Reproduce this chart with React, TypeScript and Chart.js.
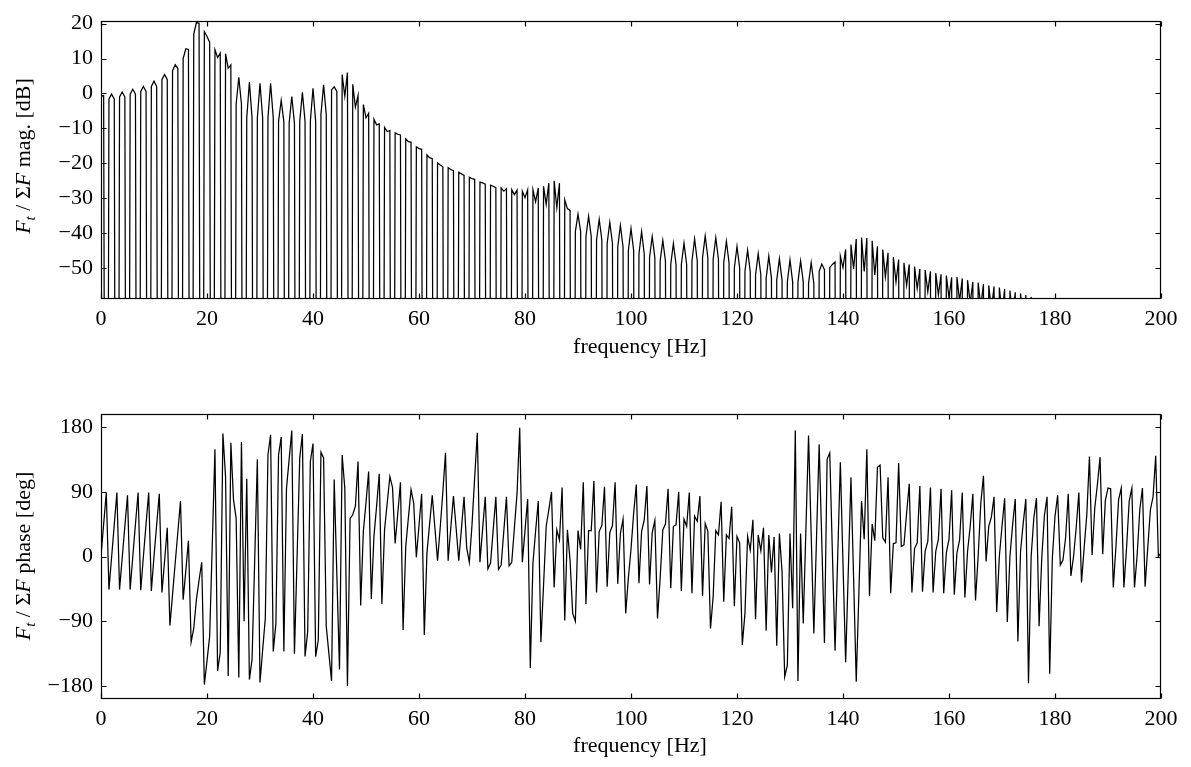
import React, { useEffect, useRef } from "react";
import { Chart, registerables } from "chart.js";

Chart.register(...registerables);

// ---------------- data ----------------
const FREQ_STEP_HZ = 0.5; // spectral bin spacing
const NOTCH = -300; // zero-magnitude bins (far below the axis)

const FREQ_TICKS = [0, 20, 40, 60, 80, 100, 120, 140, 160, 180, 200];
const MAG_TICKS = [-50, -40, -30, -20, -10, 0, 10, 20];
const PHASE_TICKS = [-180, -90, 0, 90, 180];
const MAG_RANGE = [-58.9, 20.7];
const PHASE_RANGE = [-198, 198];

// magnitude [dB], one row per 2 Hz period: [f-0.5, f, f+0.5, f+1]
const MAG_DB = [
  -0.8, -0.6, NOTCH,
  -1.6, -0.2, -1.6, NOTCH,
  -1.0, 0.4, -1.0, NOTCH,
  -0.2, 1.2, -0.2, NOTCH,
  0.6, 2.0, 0.6, NOTCH,
  2.0, 3.5, 2.0, NOTCH,
  4.0, 5.4, 4.0, NOTCH,
  6.5, 8.2, 7.2, NOTCH,
  10.0, 12.8, 12.6, NOTCH,
  17.0, 20.3, 20.1, NOTCH,
  17.7, 16.3, 14.7, NOTCH,
  12.5, 10.3, 11.6, NOTCH,
  11.4, 7.2, 8.2, NOTCH,
  -3.0, 4.6, -3.0, NOTCH,
  -7.0, 3.3, -7.0, NOTCH,
  -7.0, 2.9, -7.0, NOTCH,
  -7.0, 2.9, -7.0, NOTCH,
  -8.0, -2.0, -8.0, NOTCH,
  -8.5, -0.9, -8.5, NOTCH,
  -8.0, 0.3, -8.0, NOTCH,
  -8.0, 1.5, -8.0, NOTCH,
  -6.0, 2.5, -6.0, NOTCH,
  1.0, 1.9, 0.6, NOTCH,
  5.4, -0.8, 6.0, NOTCH,
  2.6, -3.9, -0.6, NOTCH,
  -3.2, -7.0, -5.7, NOTCH,
  -7.4, -9.0, -8.7, NOTCH,
  -9.7, -10.9, -10.6, NOTCH,
  -11.3, -11.7, -11.9, NOTCH,
  -13.0, -13.8, -14.0, NOTCH,
  -15.3, -15.8, -16.0, NOTCH,
  -17.6, -18.4, -18.7, NOTCH,
  -19.9, -20.5, -21.0, NOTCH,
  -21.3, -21.8, -22.1, NOTCH,
  -22.6, -23.0, -23.5, NOTCH,
  -24.0, -24.4, -24.6, NOTCH,
  -25.4, -25.6, -26.0, NOTCH,
  -26.3, -26.6, -27.0, NOTCH,
  -27.1, -28.0, -27.3, NOTCH,
  -27.6, -29.0, -27.7, NOTCH,
  -28.0, -29.9, -27.6, NOTCH,
  -27.6, -31.0, -27.1, NOTCH,
  -26.6, -31.8, -25.7, NOTCH,
  -25.0, -32.7, -25.7, NOTCH,
  -30.5, -33.0, -33.5, NOTCH,
  -39.6, -34.6, -39.6, NOTCH,
  -41.0, -35.2, -41.0, NOTCH,
  -42.0, -36.1, -42.0, NOTCH,
  -43.0, -36.9, -43.0, NOTCH,
  -44.0, -37.8, -44.0, NOTCH,
  -45.0, -38.7, -45.0, NOTCH,
  -46.0, -39.6, -46.0, NOTCH,
  -47.0, -41.0, -47.0, NOTCH,
  -48.0, -42.1, -48.0, NOTCH,
  -49.0, -43.0, -49.0, NOTCH,
  -49.0, -42.9, -49.0, NOTCH,
  -48.0, -41.7, -48.0, NOTCH,
  -47.0, -40.8, -47.0, NOTCH,
  -47.5, -41.3, -47.5, NOTCH,
  -48.5, -42.4, -48.5, NOTCH,
  -50.0, -43.8, -50.0, NOTCH,
  -51.0, -44.9, -51.0, NOTCH,
  -52.0, -45.9, -52.0, NOTCH,
  -53.0, -46.6, -53.0, NOTCH,
  -53.5, -47.4, -53.5, NOTCH,
  -54.0, -47.7, -54.0, NOTCH,
  -54.0, -48.0, -54.0, NOTCH,
  -54.5, -48.5, -54.5, NOTCH,
  -51.0, -48.9, -50.5, NOTCH,
  -49.9, -49.0, -48.3, NOTCH,
  -46.6, -49.9, -44.7, NOTCH,
  -43.3, -50.3, -41.7, NOTCH,
  -41.3, -51.0, -41.4, NOTCH,
  -42.2, -52.0, -43.8, NOTCH,
  -44.7, -52.6, -45.7, NOTCH,
  -46.9, -54.0, -47.6, NOTCH,
  -48.5, -55.0, -49.0, NOTCH,
  -49.6, -55.9, -50.3, NOTCH,
  -50.6, -56.8, -51.0, NOTCH,
  -51.5, -57.7, -51.8, NOTCH,
  -52.2, -58.5, -52.7, NOTCH,
  -52.6, -59.5, -53.0, NOTCH,
  -53.5, -60.0, -54.0, NOTCH,
  -54.2, -61.0, -54.6, NOTCH,
  -55.0, -62.0, -55.3, NOTCH,
  -55.6, -63.0, -56.0, NOTCH,
  -56.5, -64.0, -57.0, NOTCH,
  -57.3, -65.0, -57.8, NOTCH,
  -58.3, -66.0, -58.7, NOTCH,
  -59.5, -67.0, -60.0, NOTCH,
  -61.0, -68.0, -61.5, NOTCH,
  -62.5, -69.0, -63.0, NOTCH,
  -64.0, -70.0, -64.5, NOTCH,
  -65.5, -71.0, -66.0, NOTCH,
  -67.0, -72.0, -67.5, NOTCH,
  -68.5, -73.0, -69.0, NOTCH,
  -70.0, -74.0, -70.5, NOTCH,
  -71.5, -75.0, -72.0, NOTCH,
  -73.0, -76.0, -73.5, NOTCH,
  -74.5, -77.0, -75.0, NOTCH,
  -76.0, -78.0,
];

// phase [deg], 4 bins (2 Hz) per row
const PHASE_DEG = [
  0, 45, 89, -46,
  -1, 44, 89, -46,
  -2, 42, 85, -46,
  0, 45, 89, -47,
  0, 45, 89, -48,
  0, 44, 87, -50,
  -6, 40, -96, -53,
  -9, 34, 77, -60,
  -20, 22, -119, -100,
  -60, -33, -8, -178,
  -145, -111, 18, 149,
  -159, -133, 171, 111,
  -166, 158, 79, 53,
  -168, 159, -90, 108,
  -171, -143, -5, 135,
  -175, -130, -86, 141,
  169, -132, -93, 141,
  166, -132, 95, 135,
  175, -135, 0, 137,
  170, -139, -104, 132,
  157, -139, -116, 145,
  137, -97, -135, -173,
  107, -25, -157, 141,
  95, -180, 53, 58,
  70, 132, -68, 35,
  75, 118, -59, 28,
  70, 115, -66, 37,
  74, 111, 96, 18,
  60, 103, -102, 14,
  54, 93, 74, -1,
  43, 87, -109, 5,
  45, 85, 40, -6,
  40, 90, 144, -6,
  40, 84, 40, -6,
  38, 83, 12, -8,
  44, 109, 172, -8,
  38, 83, -17, -9,
  37, 83, -18, -12,
  35, 83, -13, -8,
  40, 88, 179, -8,
  36, 80, -155, -9,
  35, 77, -119, -40,
  42, 65, 90, -43,
  37, 23, 96, -89,
  37, -5, -79, -90,
  36, 10, 103, -66,
  36, 36, 105, -50,
  35, 43, 97, -42,
  33, 43, 103, -38,
  32, 52, -79, -30,
  10, 60, 100, -37,
  35, 51, 98, -39,
  33, 50, -86, -30,
  37, 45, 94, -44,
  42, 44, 90, -48,
  52, 42, 89, -51,
  56, 49, 84, -55,
  46, 35, -100, -56,
  36, 30, 76, -63,
  30, 25, 69, -69,
  28, 19, -123, -79,
  28, 9, 51, -87,
  30, 8, 40, -103,
  30, -22, 27, -124,
  32, -21, -167, -151,
  32, -72, 175, -173,
  32, -93, 37, 168,
  30, -107, 25, 156,
  20, -120, 135, 144,
  5, -131, 0, 131,
  -10, -147, -20, 110,
  -30, -174, -50, 77,
  24, 149, -55, 45,
  22, 124, 127, 26,
  20, 110, -51, 18,
  19, 130, 14, 16,
  60, 101, -50, 11,
  19, 98, -49, 7,
  21, 96, -50, 7,
  24, 94, -51, 5,
  24, 92, -53, 5,
  23, 89, -57, 7,
  42, 87, -61, 0,
  74, 112, -7, 42,
  55, 83, -77, 0,
  42, 81, -91, 0,
  44, 80, -118, 7,
  46, 80, -176, 0,
  53, 81, -97, -2,
  57, 83, -163, -2,
  56, 85, -12, -5,
  26, 87, -27, 0,
  40, 89, -36, 12,
  58, 139, 2, 67,
  100, 138, 3, 78,
  95, 94, -43, 14,
  79, 95, -43, 12,
  77, 95, -43, 2,
  65, 95, -42, 12,
  65, 83, 140, 0,
  5,
];

// ---------------- helpers ----------------
const FONT = "'Liberation Serif', 'Times New Roman', serif";
const FONT_SIZE = 22;
const fmt = (v: number | string) => String(v).replace("-", "\u2212");

const framePlugin = {
  id: "frameTicks",
  afterDraw(chart: any) {
    const { ctx, chartArea: a, scales } = chart;
    const L = 5;
    ctx.save();
    ctx.strokeStyle = "#000";
    ctx.lineWidth = 1.2;
    const l = Math.round(a.left) + 0.5;
    const r = Math.round(a.right) - 0.5;
    const t = Math.round(a.top) + 0.5;
    const b = Math.round(a.bottom) - 0.5;
    ctx.strokeRect(l, t, r - l, b - t);
    ctx.beginPath();
    for (const tk of scales.x.ticks) {
      const px = Math.round(scales.x.getPixelForValue(tk.value)) + 0.5;
      ctx.moveTo(px, b);
      ctx.lineTo(px, b - L);
      ctx.moveTo(px, t);
      ctx.lineTo(px, t + L);
    }
    for (const tk of scales.y.ticks) {
      const py = Math.round(scales.y.getPixelForValue(tk.value)) + 0.5;
      ctx.moveTo(l, py);
      ctx.lineTo(l + L, py);
      ctx.moveTo(r, py);
      ctx.lineTo(r - L, py);
    }
    ctx.stroke();
    ctx.restore();
  },
};

function makeConfig(values: number[], yRange: number[], yTicks: number[], padTop: number, xAxisH: number) {
  const points = values.map((v, i) => ({ x: i * FREQ_STEP_HZ, y: v }));
  return {
    type: "line",
    data: {
      datasets: [
        {
          data: points,
          borderColor: "#000",
          borderWidth: 1.25,
          pointRadius: 0,
          tension: 0,
          fill: false,
        },
      ],
    },
    options: {
      responsive: false,
      animation: false,
      events: [],
      layout: { padding: { top: padTop, right: 30, left: 0, bottom: 0 } },
      plugins: { legend: { display: false }, tooltip: { enabled: false } },
      scales: {
        x: {
          type: "linear",
          min: 0,
          max: 200,
          afterBuildTicks: (s: any) => {
            s.ticks = FREQ_TICKS.map((v) => ({ value: v }));
          },
          afterFit: (s: any) => {
            s.height = xAxisH;
          },
          grid: { display: false, drawTicks: false },
          border: { display: false },
          ticks: {
            color: "#000",
            font: { family: FONT, size: FONT_SIZE },
            padding: 7,
            maxRotation: 0,
            autoSkip: false,
            callback: (v: any) => fmt(v),
          },
        },
        y: {
          type: "linear",
          min: yRange[0],
          max: yRange[1],
          afterBuildTicks: (s: any) => {
            s.ticks = yTicks.map((v) => ({ value: v }));
          },
          afterFit: (s: any) => {
            s.width = 101;
          },
          grid: { display: false, drawTicks: false },
          border: { display: false },
          ticks: {
            color: "#000",
            font: { family: FONT, size: FONT_SIZE },
            padding: 8,
            autoSkip: false,
            callback: (v: any) => fmt(v),
          },
        },
      },
    },
    plugins: [framePlugin],
  } as any;
}

function YTitle({ cx, cy, word }: { cx: number; cy: number; word: string }) {
  return (
    <div
      style={{
        position: "absolute",
        left: cx,
        top: cy,
        transform: "translate(-50%, -50%) rotate(-90deg)",
        whiteSpace: "nowrap",
        fontFamily: FONT,
        fontSize: FONT_SIZE,
        color: "#000",
        lineHeight: 1,
      }}
    >
      <i>F</i>
      <sub style={{ fontSize: 15, fontStyle: "italic", verticalAlign: "-0.35em" }}>t</sub> / Σ<i>F</i> {word}
    </div>
  );
}

function XTitle({ cy }: { cy: number }) {
  return (
    <div
      style={{
        position: "absolute",
        left: 640,
        top: cy,
        transform: "translate(-50%, -50%)",
        whiteSpace: "nowrap",
        fontFamily: FONT,
        fontSize: FONT_SIZE,
        color: "#000",
        lineHeight: 1,
      }}
    >
      frequency [Hz]
    </div>
  );
}

export default function App() {
  const topRef = useRef<HTMLCanvasElement | null>(null);
  const botRef = useRef<HTMLCanvasElement | null>(null);

  useEffect(() => {
    const c1 = new Chart(topRef.current as any, makeConfig(MAG_DB, MAG_RANGE, MAG_TICKS, 14, 85));
    const c2 = new Chart(botRef.current as any, makeConfig(PHASE_DEG, PHASE_RANGE, PHASE_TICKS, 30, 68));
    return () => {
      c1.destroy();
      c2.destroy();
    };
  }, []);

  return (
    <div
      style={{
        position: "fixed",
        left: 0,
        top: 0,
        width: 1191,
        height: 767,
        background: "#fff",
        overflow: "hidden",
      }}
    >
      <canvas ref={topRef} width={1191} height={384} style={{ position: "absolute", left: 0, top: 0 }} />
      <canvas ref={botRef} width={1191} height={383} style={{ position: "absolute", left: 0, top: 384 }} />
      <YTitle cx={25} cy={156} word="mag. [dB]" />
      <YTitle cx={25} cy={556} word="phase [deg]" />
      <XTitle cy={346} />
      <XTitle cy={745} />
    </div>
  );
}
